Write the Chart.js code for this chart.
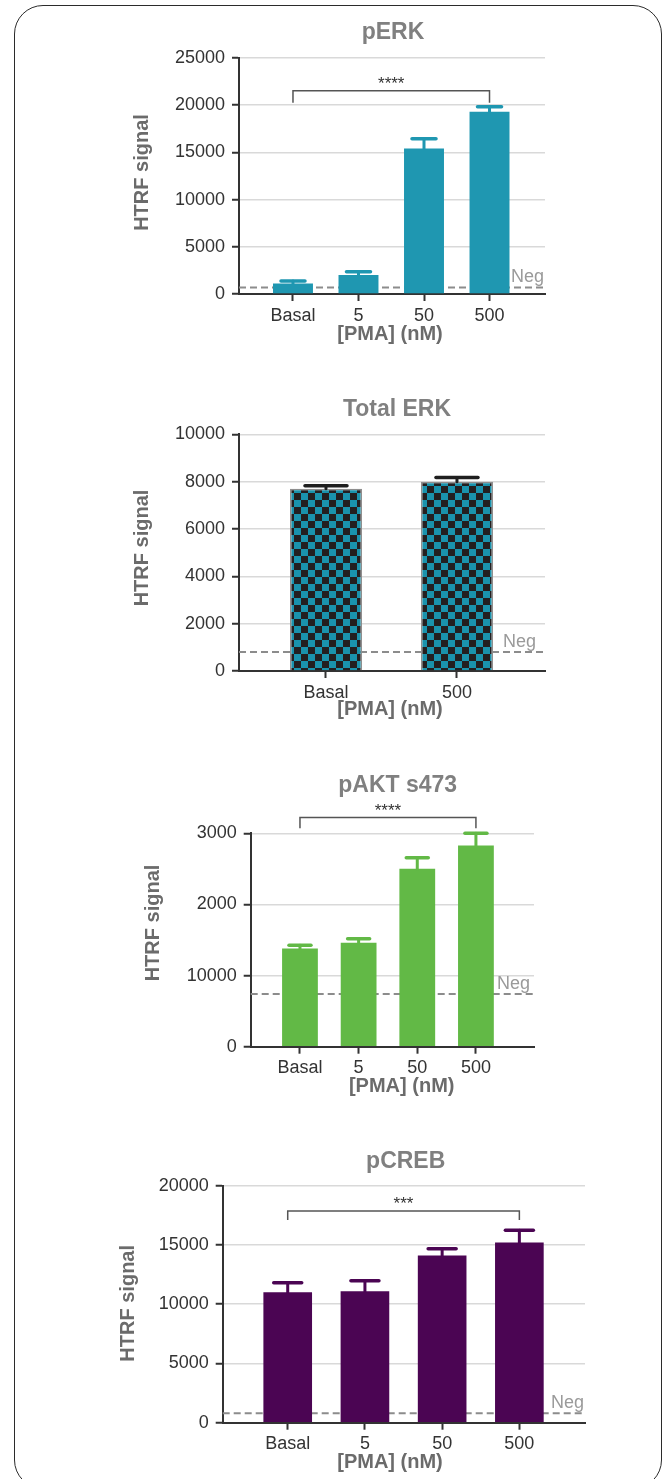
<!DOCTYPE html>
<html>
<head>
<meta charset="utf-8">
<script src="https://cdn.jsdelivr.net/npm/chart.js@4.4.1/dist/chart.umd.min.js"></script>
<style>
  html, body { margin: 0; padding: 0; background: #ffffff; }
  body { width: 665px; height: 1479px; position: relative; overflow: hidden; }
  #frame {
    position: absolute; left: 14px; top: 5px; width: 648px; height: 1484px;
    box-sizing: border-box; border: 1.5px solid #2b2b2b; border-radius: 29px;
  }
  canvas { position: absolute; left: 0; }
</style>
</head>
<body>
<div id="frame"></div>
<canvas id="perk"></canvas>
<canvas id="terk"></canvas>
<canvas id="pakt"></canvas>
<canvas id="pcreb"></canvas>
<script>
// ---- data ----
const pmaDoses = ['Basal', '5', '50', '500'];
const totalErkDoses = ['Basal', '500'];

const perkMean = [1100, 2000, 15400, 19300];
const perkSem = [280, 360, 1050, 540];
const perkTicks = [0, 5000, 10000, 15000, 20000, 25000];
const perkTickLabels = ['0', '5000', '10000', '15000', '20000', '25000'];
const perkNeg = 700;
const perkBracket = [0, 3, 20270, 21540];   // from, to, leg foot, bracket top
const perkStars = '****';

const terkMean = [7700, 8000];
const terkSem = [130, 170];
const terkTicks = [0, 2000, 4000, 6000, 8000, 10000];
const terkTickLabels = ['0', '2000', '4000', '6000', '8000', '10000'];
const terkNeg = 800;

const paktMean = [1380, 1460, 2500, 2830];
const paktSem = [46, 59, 158, 170];
const paktTicks = [0, 1000, 2000, 3000];
const paktTickLabels = ['0', '10000', '2000', '3000'];
const paktNeg = 740;
const paktBracket = [0, 3, 3071, 3221];
const paktStars = '****';

const pcrebMean = [11000, 11100, 14100, 15200];
const pcrebSem = [800, 880, 580, 1030];
const pcrebTicks = [0, 5000, 10000, 15000, 20000];
const pcrebTickLabels = ['0', '5000', '10000', '15000', '20000'];
const pcrebNeg = 800;
const pcrebBracket = [0, 3, 17105, 17865];
const pcrebStars = '***';

// ---- styling ----
const FONT = '"Liberation Sans", Arial, Helvetica, sans-serif';
Chart.defaults.font.family = FONT;

function checkerPattern(a, b, cell) {
  const c = document.createElement('canvas');
  c.width = cell * 2; c.height = cell * 2;
  const g = c.getContext('2d');
  g.fillStyle = b; g.fillRect(0, 0, cell * 2, cell * 2);
  g.fillStyle = a;
  g.fillRect(0, 0, cell, cell);
  g.fillRect(cell, cell, cell, cell);
  return g.createPattern(c, 'repeat');
}

function makePanel(p) {
  const canvas = document.getElementById(p.id);
  canvas.width = 665; canvas.height = p.height;
  canvas.style.top = p.top + 'px';
  const chartTop = p.area.top - p.top;
  const chartBottom = p.area.bottom - p.top;
  const xHeight = 50;

  const overlay = {
    id: 'overlay-' + p.id,
    beforeDatasetsDraw(chart) {
      const { ctx, chartArea, scales } = chart;
      const y = scales.y.getPixelForValue(p.neg);
      ctx.save();
      ctx.strokeStyle = '#8c8c8c';
      ctx.lineWidth = 2;
      ctx.setLineDash([7, 4]);
      ctx.beginPath();
      ctx.moveTo(chartArea.left, y);
      ctx.lineTo(chartArea.right, y);
      ctx.stroke();
      ctx.restore();
    },
    afterDatasetsDraw(chart) {
      const { ctx, chartArea, scales } = chart;
      const ys = scales.y, xs = scales.x;
      const meta = chart.getDatasetMeta(0);
      ctx.save();
      // error bars (mean + SEM)
      ctx.strokeStyle = p.errColor;
      ctx.lineCap = 'round';
      meta.data.forEach((bar, i) => {
        const capY = ys.getPixelForValue(p.means[i] + p.sem[i]);
        ctx.lineWidth = 3;
        ctx.beginPath(); ctx.moveTo(bar.x, bar.y); ctx.lineTo(bar.x, capY); ctx.stroke();
        ctx.lineWidth = 3.5;
        ctx.beginPath(); ctx.moveTo(bar.x - p.capHalf, capY); ctx.lineTo(bar.x + p.capHalf, capY); ctx.stroke();
      });
      ctx.lineCap = 'butt';
      // negative-control label
      const negY = ys.getPixelForValue(p.neg);
      ctx.fillStyle = '#9a9a9a';
      ctx.font = '18px ' + FONT;
      ctx.textAlign = 'right';
      ctx.textBaseline = 'alphabetic';
      ctx.fillText('Neg', chartArea.right - p.negInset, negY - 5.5);
      // significance bracket
      if (p.bracket) {
        const x0 = xs.getPixelForValue(p.bracket[0]);
        const x1 = xs.getPixelForValue(p.bracket[1]);
        const yFoot = ys.getPixelForValue(p.bracket[2]);
        const yTop = ys.getPixelForValue(p.bracket[3]);
        ctx.strokeStyle = '#555555';
        ctx.lineWidth = 1.5;
        ctx.beginPath();
        ctx.moveTo(x0, yFoot); ctx.lineTo(x0, yTop); ctx.lineTo(x1, yTop); ctx.lineTo(x1, yFoot);
        ctx.stroke();
        ctx.fillStyle = '#333333';
        ctx.font = '17px ' + FONT;
        ctx.textAlign = 'center';
        ctx.fillText(p.stars, (x0 + x1) / 2, yTop - 2);
      }
      ctx.restore();
    },
    afterDraw(chart) {
      const ctx = chart.ctx;
      ctx.save();
      ctx.textAlign = 'center';
      ctx.textBaseline = 'alphabetic';
      ctx.fillStyle = '#808080';
      ctx.font = 'bold 23px ' + FONT;
      ctx.fillText(p.title.text, p.title.x, p.title.y - p.top);
      ctx.fillStyle = '#6b6b6b';
      ctx.font = 'bold 20px ' + FONT;
      ctx.fillText('[PMA] (nM)', p.xTitle.x, p.xTitle.y - p.top);
      ctx.translate(p.yTitle.x, p.yTitle.y - p.top);
      ctx.rotate(-Math.PI / 2);
      ctx.fillText('HTRF signal', 0, 0);
      ctx.restore();
    }
  };

  return new Chart(canvas, {
    type: 'bar',
    data: {
      datasets: [{
        data: p.means.map((v, i) => ({ x: i, y: v })),
        backgroundColor: p.fill,
        borderColor: p.border || p.fill,
        borderWidth: p.borderWidth || 0,
        barPercentage: p.barPct,
        categoryPercentage: 1
      }]
    },
    options: {
      responsive: false,
      animation: false,
      devicePixelRatio: 1,
      layout: {
        padding: { left: 0, top: chartTop, right: 665 - p.area.right, bottom: p.height - chartBottom - xHeight }
      },
      plugins: { legend: { display: false }, tooltip: { enabled: false } },
      scales: {
        x: {
          type: 'linear',
          offset: false,
          min: p.xMin, max: p.xMax,
          afterFit(s) { s.height = xHeight; },
          afterBuildTicks(s) { s.ticks = p.categories.map((_, i) => ({ value: i })); },
          ticks: {
            callback: (v) => p.categories[v],
            autoSkip: false, maxRotation: 0, padding: 4,
            font: { size: 18 }, color: '#333333'
          },
          grid: { offset: false, drawOnChartArea: false, drawTicks: true, tickLength: 7, tickColor: '#333333', tickWidth: 2 },
          border: { color: '#333333', width: 2 }
        },
        y: {
          min: 0, max: p.yTicks[p.yTicks.length - 1],
          afterFit(s) { s.width = p.area.left; },
          afterBuildTicks(s) { s.ticks = p.yTicks.map(v => ({ value: v })); },
          ticks: {
            callback: (v, i) => p.yTickLabels[i],
            padding: 7, font: { size: 18 }, color: '#333333'
          },
          grid: { color: '#d9d9d9', lineWidth: 1.5, tickColor: '#333333', tickLength: 7, tickWidth: 2 },
          border: { color: '#333333', width: 2 }
        }
      }
    },
    plugins: [overlay]
  });
}

makePanel({
  id: 'perk', top: 0, height: 360,
  area: { left: 239, right: 545, top: 58, bottom: 294 },
  xMin: -0.824, xMax: 3.847,
  categories: pmaDoses, means: perkMean, sem: perkSem,
  yTicks: perkTicks, yTickLabels: perkTickLabels, neg: perkNeg,
  bracket: perkBracket, stars: perkStars,
  fill: '#1f97b1', errColor: '#1f97b1', capHalf: 12, barPct: 0.61, negInset: 1,
  title: { text: 'pERK', x: 393, y: 39.3 },
  yTitle: { x: 147.7, y: 172.5 }, xTitle: { x: 390, y: 340 }
});

makePanel({
  id: 'terk', top: 360, height: 370,
  area: { left: 239, right: 545, top: 434.3, bottom: 671 },
  xMin: -0.664, xMax: 1.672,
  categories: totalErkDoses, means: terkMean, sem: terkSem,
  yTicks: terkTicks, yTickLabels: terkTickLabels, neg: terkNeg,
  fill: checkerPattern('#1a93ad', '#231f20', 7), border: '#8f8f8f', borderWidth: 1.5,
  errColor: '#1f1f1f', capHalf: 21, barPct: 0.55, negInset: 9,
  title: { text: 'Total ERK', x: 397, y: 416 },
  yTitle: { x: 147.7, y: 548 }, xTitle: { x: 390, y: 715 }
});

makePanel({
  id: 'pakt', top: 730, height: 380,
  area: { left: 250.7, right: 534, top: 833.3, bottom: 1046.7 },
  xMin: -0.84, xMax: 3.99,
  categories: pmaDoses, means: paktMean, sem: paktSem,
  yTicks: paktTicks, yTickLabels: paktTickLabels, neg: paktNeg,
  bracket: paktBracket, stars: paktStars,
  fill: '#62b946', errColor: '#62b946', capHalf: 11, barPct: 0.61, negInset: 4,
  title: { text: 'pAKT s473', x: 397.7, y: 791.7 },
  yTitle: { x: 159.3, y: 923 }, xTitle: { x: 401.7, y: 1092 }
});

makePanel({
  id: 'pcreb', top: 1110, height: 369,
  area: { left: 222.7, right: 585, top: 1185.7, bottom: 1422.7 },
  xMin: -0.842, xMax: 3.85,
  categories: pmaDoses, means: pcrebMean, sem: pcrebSem,
  yTicks: pcrebTicks, yTickLabels: pcrebTickLabels, neg: pcrebNeg,
  bracket: pcrebBracket, stars: pcrebStars,
  fill: '#4b0553', errColor: '#4b0553', capHalf: 14, barPct: 0.63, negInset: 1,
  title: { text: 'pCREB', x: 405.7, y: 1168.3 },
  yTitle: { x: 134.3, y: 1303.3 }, xTitle: { x: 390, y: 1468 }
});
</script>
</body>
</html>
